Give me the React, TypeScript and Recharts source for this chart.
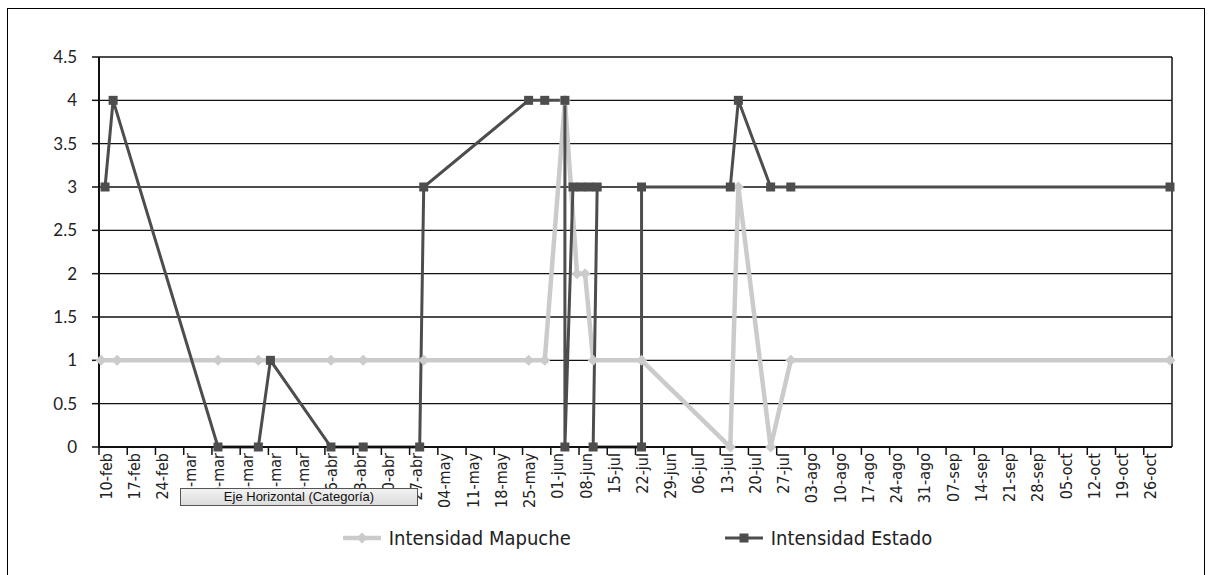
import React from 'react'
import {
  LineChart,
  Line,
  XAxis,
  YAxis,
  CartesianGrid,
  ReferenceLine,
  Legend,
} from 'recharts'

// Datos (año bisiesto 2008, eje de fechas por días)
const START = '2008-02-10'

const mapucheDates = [
  '2008-02-10', '2008-02-14', '2008-03-10', '2008-03-20', '2008-04-07',
  '2008-04-15', '2008-04-30', '2008-05-26', '2008-05-30', '2008-06-04',
  '2008-06-07', '2008-06-09', '2008-06-11', '2008-06-23', '2008-07-15',
  '2008-07-17', '2008-07-25', '2008-07-30', '2008-11-01',
]
const mapucheValues = [1, 1, 1, 1, 1, 1, 1, 1, 1, 4, 2, 2, 1, 1, 0, 3, 0, 1, 1]

const estadoDates = [
  '2008-02-11', '2008-02-13', '2008-03-10', '2008-03-20', '2008-03-23',
  '2008-04-07', '2008-04-15', '2008-04-29', '2008-04-30', '2008-05-26',
  '2008-05-30', '2008-06-04', '2008-06-04', '2008-06-06', '2008-06-08',
  '2008-06-10', '2008-06-12', '2008-06-11', '2008-06-23', '2008-06-23',
  '2008-07-15', '2008-07-17', '2008-07-25', '2008-07-30', '2008-11-01',
]
const estadoValues = [3, 4, 0, 0, 1, 0, 0, 0, 3, 4, 4, 4, 0, 3, 3, 3, 3, 0, 0, 3, 3, 4, 3, 3, 3]

// etiquetas del eje X (semanales, tal cual aparecen)
const xLabels = [
  '10-feb', '17-feb', '24-feb', '02-mar', '09-mar', '16-mar', '23-mar', '30-mar',
  '06-abr', '13-abr', '20-abr', '27-abr', '04-may', '11-may', '18-may', '25-may',
  '01-jun', '08-jun', '15-jul', '22-jul', '29-jun', '06-jul', '13-jul', '20-jul',
  '27-jul', '03-ago', '10-ago', '17-ago', '24-ago', '31-ago', '07-sep', '14-sep',
  '21-sep', '28-sep', '05-oct', '12-oct', '19-oct', '26-oct',
]
const yTicks = [0, 0.5, 1, 1.5, 2, 2.5, 3, 3.5, 4, 4.5]

const MAPUCHE_COLOR = '#cbcbcb'
const ESTADO_COLOR = '#4d4d4d'
const NARROW = "'Liberation Sans Narrow', 'DejaVu Sans Condensed', 'Arial Narrow', sans-serif"

const DAY = 86400000
function dayOf(date: string): number {
  return Math.round((Date.parse(date) - Date.parse(START)) / DAY)
}

// los puntos se ubican al centro de cada día (entre marcas)
function buildSeries(dates: string[], values: number[]) {
  return dates.map((d, i) => ({ day: dayOf(d) + 0.5, value: values[i] }))
}

const mapucheData = buildSeries(mapucheDates, mapucheValues)
const estadoData = buildSeries(estadoDates, estadoValues)
const xTicks = xLabels.map((_, i) => i * 7)

function SquareDot(props: any) {
  const { cx, cy } = props
  if (cx == null || cy == null) return null
  return <rect x={cx - 4.5} y={cy - 4.5} width={9} height={9} fill={ESTADO_COLOR} />
}

function DiamondDot(props: any) {
  const { cx, cy } = props
  if (cx == null || cy == null) return null
  return (
    <polygon
      points={`${cx},${cy - 5.5} ${cx + 5.5},${cy} ${cx},${cy + 5.5} ${cx - 5.5},${cy}`}
      fill={MAPUCHE_COLOR}
    />
  )
}

function XTick(props: any) {
  const { x, y, payload } = props
  const label = xLabels[Math.round(payload.value / 7)]
  const tx = x + 7
  const ty = y - 2
  return (
    <text
      x={tx}
      y={ty}
      transform={`rotate(-90, ${tx}, ${ty})`}
      textAnchor="end"
      dominantBaseline="central"
      fontFamily={NARROW}
      fontSize={16}
      fill="#222"
    >
      {label}
    </text>
  )
}

const legendItems = [
  { name: 'Intensidad Mapuche', color: MAPUCHE_COLOR, shape: 'diamond' },
  { name: 'Intensidad Estado', color: ESTADO_COLOR, shape: 'square' },
]

function LegendContent() {
  return (
    <div style={{ display: 'flex', justifyContent: 'center', gap: 150 }}>
      {legendItems.map((item) => (
        <div key={item.name} style={{ display: 'flex', alignItems: 'center' }}>
          <svg width={46} height={20}>
            <line x1={4} y1={10} x2={42} y2={10} stroke={item.color} strokeWidth={item.shape === 'diamond' ? 4.5 : 3} />
            {item.shape === 'diamond' ? (
              <polygon points="23,4.5 28.5,10 23,15.5 17.5,10" fill={item.color} />
            ) : (
              <rect x={18.5} y={5.5} width={9} height={9} fill={item.color} />
            )}
          </svg>
          <span style={{ fontFamily: NARROW, fontSize: 20, color: '#222', marginLeft: 4 }}>
            {item.name}
          </span>
        </div>
      ))}
    </div>
  )
}

export default function App() {
  return (
    <div style={{ position: 'absolute', left: 0, top: 0, width: 1213, height: 575, background: '#fff' }}>
      <div
        style={{
          position: 'absolute',
          left: 7,
          top: 8,
          width: 1198,
          height: 567,
          borderTop: '1px solid #000',
          borderLeft: '1px solid #000',
          borderRight: '1px solid #000',
          boxSizing: 'border-box',
        }}
      />
      <div style={{ position: 'absolute', left: 0, top: 0 }}>
        <LineChart width={1213} height={575} margin={{ top: 57, right: 41, left: 0, bottom: 0 }}>
          <CartesianGrid horizontal vertical={false} stroke="#111" strokeWidth={1.4} />
          <XAxis
            type="number"
            dataKey="day"
            domain={[0, 266]}
            ticks={xTicks}
            interval={0}
            height={128}
            tickSize={8}
            tickMargin={0}
            tick={<XTick />}
            axisLine={{ stroke: '#111', strokeWidth: 2 }}
            tickLine={{ stroke: '#111', strokeWidth: 1.5 }}
          />
          <YAxis
            type="number"
            domain={[0, 4.5]}
            ticks={yTicks}
            width={99}
            tickSize={7}
            tickMargin={15}
            axisLine={{ stroke: '#111', strokeWidth: 2 }}
            tickLine={{ stroke: '#111', strokeWidth: 1.5 }}
            tick={{ fill: '#222', fontSize: 17, fontFamily: 'Lato, sans-serif' }}
          />
          <ReferenceLine x={266} stroke="#111" strokeWidth={1.5} />
          <Legend
            verticalAlign="middle"
            layout="horizontal"
            content={<LegendContent />}
            wrapperStyle={{ top: 526, left: 99, width: 1073 }}
          />
          <Line
            data={mapucheData}
            dataKey="value"
            name="Intensidad Mapuche"
            stroke={MAPUCHE_COLOR}
            strokeWidth={4.5}
            dot={false}
            activeDot={false}
            isAnimationActive={false}
            legendType="none"
          />
          <Line
            data={estadoData}
            dataKey="value"
            name="Intensidad Estado"
            stroke={ESTADO_COLOR}
            strokeWidth={3}
            dot={false}
            activeDot={false}
            isAnimationActive={false}
            legendType="none"
          />
          <Line
            data={mapucheData}
            dataKey="value"
            stroke="none"
            dot={<DiamondDot />}
            activeDot={false}
            isAnimationActive={false}
            legendType="none"
          />
          <Line
            data={estadoData}
            dataKey="value"
            stroke="none"
            dot={<SquareDot />}
            activeDot={false}
            isAnimationActive={false}
            legendType="none"
          />
        </LineChart>
      </div>
      <div
        style={{
          position: 'absolute',
          left: 180,
          top: 488,
          width: 238,
          height: 18,
          boxSizing: 'border-box',
          border: '1px solid #555',
          background: 'linear-gradient(#f2f2f2, #dcdcdc)',
          fontFamily: "'Liberation Sans', Arial, sans-serif",
          fontSize: 13,
          lineHeight: '16px',
          textAlign: 'center',
          color: '#111',
        }}
      >
        Eje Horizontal (Categoría)
      </div>
    </div>
  )
}
